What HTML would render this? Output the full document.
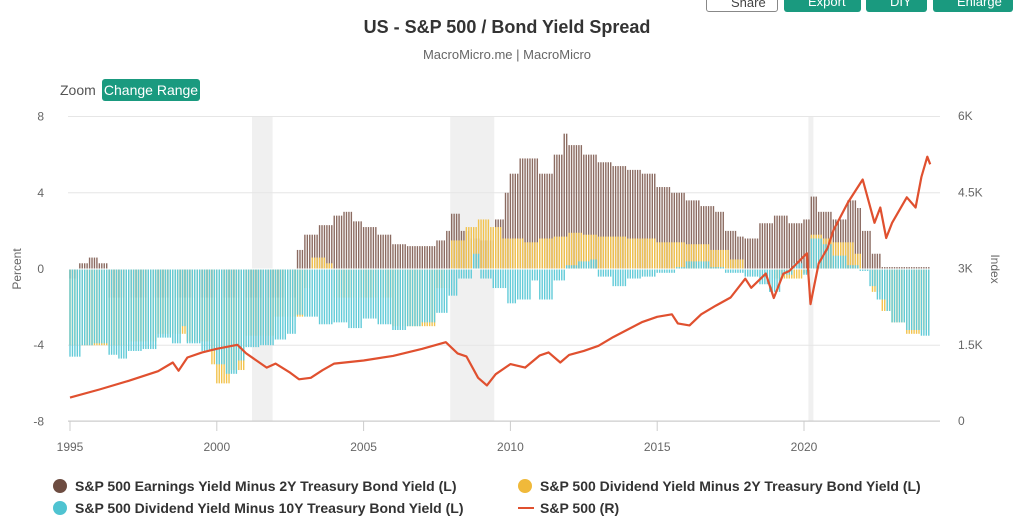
<!DOCTYPE html>
<html><head><meta charset="utf-8">
<style>
body{margin:0;width:1024px;height:528px;overflow:hidden;background:#fff;font-family:"Liberation Sans",sans-serif;}
.btn{position:absolute;top:-6px;height:18px;border-radius:3px;background:#1a9a7f;color:#fff;font-size:13px;line-height:16px;padding-left:24px;box-sizing:border-box}
</style></head><body>
<div class="btn" style="left:706px;width:72px;background:#fff;border:1px solid #888;color:#444;">Share</div>
<div class="btn" style="left:784px;width:77px;">Export</div>
<div class="btn" style="left:866px;width:61px;">DIY</div>
<div class="btn" style="left:933px;width:80px;">Enlarge</div>
<div style="position:absolute;left:0;width:1014px;top:17px;text-align:center;font-weight:bold;font-size:18px;color:#333;">US - S&amp;P 500 / Bond Yield Spread</div>
<div style="position:absolute;left:0;width:1014px;top:47px;text-align:center;font-size:13px;color:#666;">MacroMicro.me | MacroMicro</div>
<div style="position:absolute;left:60px;top:82px;font-size:14px;color:#555;">Zoom</div>
<div style="position:absolute;left:102px;top:79px;width:98px;height:22px;background:#1a9a7f;color:#fff;font-size:14px;line-height:22px;text-align:center;border-radius:3px;">Change Range</div>
<svg id="chart" width="1024" height="528" style="position:absolute;left:0;top:0" xmlns="http://www.w3.org/2000/svg"></svg>
<script>
const brownT=[1995,1995.3,1995.6,1996,1996.3,2002.5,2002.7,2003,2003.5,2004,2004.3,2004.6,2005,2005.5,2006,2006.5,2007,2007.5,2007.8,2008,2008.3,2008.6,2009,2009.5,2009.8,2010,2010.3,2010.6,2011,2011.5,2011.8,2012,2012.5,2013,2013.5,2014,2014.5,2015,2015.5,2016,2016.5,2017,2017.3,2017.7,2018,2018.5,2019,2019.5,2020,2020.2,2020.5,2021,2021.5,2021.8,2022,2022.3,2022.6,2023];
const brownV=[-0.5,0.3,0.6,0.3,-1.5,-1.5,1.0,1.8,2.3,2.8,3.0,2.5,2.2,1.8,1.3,1.2,1.2,1.5,2.0,2.9,2.0,1.6,1.5,2.6,4.0,5.0,5.8,5.8,5.0,6.0,7.1,6.5,6.0,5.6,5.4,5.2,5.0,4.3,4.0,3.6,3.3,3.0,2.0,1.7,1.6,2.4,2.8,2.4,2.6,3.8,3.0,2.6,3.6,3.2,2.0,0.8,0.1,0.1];
const yellowT=[1995,1996,1997,1998,1999,1999.8,2000,2000.5,2001,2002,2003,2003.2,2003.7,2004,2006,2007,2007.5,2008,2008.5,2008.9,2009.3,2009.7,2010,2010.5,2011,2011.5,2012,2012.5,2013,2014,2015,2016,2016.8,2017.5,2018,2019,2020,2020.2,2020.6,2021,2021.7,2022,2022.3,2022.6,2023,2023.5,2024];
const yellowV=[-4.0,-4.0,-3.8,-3.4,-3.8,-5.0,-6.0,-5.3,-3.5,-2.5,-1.0,0.6,0.3,-1.5,-3.0,-3.0,-1.0,1.5,2.2,2.6,2.2,1.6,1.6,1.4,1.6,1.7,1.9,1.8,1.7,1.6,1.4,1.3,1.0,0.5,0.0,-0.5,-0.2,1.8,1.6,1.4,0.8,0.0,-1.2,-2.2,-2.8,-3.4,-3.2];
const cyanT=[1995,1995.4,1995.8,1996.3,1996.6,1997,1997.5,1998,1998.5,1998.8,1999,1999.5,2000,2000.3,2000.7,2001,2001.5,2002,2002.4,2002.7,2003,2003.5,2004,2004.5,2005,2005.5,2006,2006.5,2007,2007.5,2007.9,2008.2,2008.7,2009,2009.4,2009.9,2010.2,2010.7,2011,2011.5,2011.9,2012.3,2012.7,2013,2013.5,2014,2014.5,2015,2015.6,2016,2016.5,2016.8,2017.3,2018,2018.5,2018.8,2019.2,2019.6,2020,2020.2,2020.6,2021,2021.5,2021.9,2022.2,2022.5,2022.8,2023,2023.5,2024];
const cyanV=[-4.6,-4.0,-3.9,-4.5,-4.7,-4.3,-4.2,-3.6,-3.9,-3.0,-3.9,-4.3,-5.0,-5.5,-4.8,-4.1,-4.0,-3.7,-3.4,-2.4,-2.5,-2.9,-2.8,-3.1,-2.6,-2.9,-3.2,-3.0,-2.8,-2.3,-1.4,-0.5,0.8,-0.5,-1.0,-1.8,-1.6,-0.6,-1.6,-0.6,0.2,0.4,0.5,-0.4,-0.9,-0.5,-0.4,-0.2,0.1,0.4,0.4,0.1,-0.2,-0.4,-0.8,-1.2,-0.3,0.3,-0.3,1.6,1.3,0.7,0.2,-0.1,-0.9,-1.6,-2.2,-2.8,-3.2,-3.5];
const spxT=[1995,1996,1997,1998,1998.5,1998.7,1999,1999.5,2000,2000.7,2001,2001.7,2002,2002.5,2002.8,2003.2,2003.6,2004,2005,2006,2007,2007.8,2008.2,2008.5,2008.9,2009.2,2009.5,2010,2010.5,2011,2011.3,2011.7,2012,2012.5,2013,2013.5,2014,2014.5,2015,2015.5,2015.7,2016.1,2016.5,2017,2017.5,2018,2018.2,2018.7,2018.97,2019.3,2019.5,2020.1,2020.22,2020.5,2020.8,2021,2021.5,2022,2022.4,2022.6,2022.8,2023,2023.5,2023.8,2024,2024.2,2024.3];
const spxV=[460,620,790,980,1150,990,1250,1350,1420,1500,1330,1050,1130,950,820,850,1000,1130,1190,1280,1420,1550,1330,1270,850,700,920,1120,1050,1290,1350,1150,1300,1380,1480,1650,1800,1950,2050,2100,1920,1880,2100,2270,2430,2800,2620,2900,2420,2900,2950,3300,2300,3100,3400,3750,4300,4750,3900,4200,3600,3900,4400,4200,4800,5200,5050];
const leftTicks=[8,4,0,-4,-8];
const rightTicks=[6000,4500,3000,1500,0];
const rightLabels=["6K","4.5K","3K","1.5K","0"];
const xTicks=[1995,2000,2005,2010,2015,2020];
const recessions=[[2001.2,2001.9],[2007.95,2009.45],[2020.15,2020.32]];

const NS="http://www.w3.org/2000/svg";
const svg=document.getElementById('chart');
const X0=68,X1=940,YT=116,YB=421;
const xs=t=>70+(t-1995)*29.36;
const yl=v=>269-v*19.06;
const yr=v=>YB-v*(YB-YT)/6000;
function mk(tag,attrs,parent){const e=document.createElementNS(NS,tag);for(const k in attrs)e.setAttribute(k,attrs[k]);(parent||svg).appendChild(e);return e;}
function step(T,V,t){let v=V[0];for(let i=0;i<T.length;i++){if(T[i]<=t+1e-6)v=V[i];else break;}return v;}

recessions.forEach(r=>{const e=mk('rect',{x:xs(r[0]),y:YT,width:xs(r[1])-xs(r[0]),height:YB-YT,fill:'#f0f0f0'});

});
leftTicks.forEach((v,i)=>{const g=mk('line',{x1:X0,x2:X1,y1:yl(v),y2:yl(v),stroke:'#e6e6e6'});


const t=mk('text',{x:44,y:yl(v)+4,'text-anchor':'end','font-size':12,fill:'#666'});t.textContent=v;


const r=mk('text',{x:958,y:yr(rightTicks[i])+4,'font-size':12,fill:'#666'});r.textContent=rightLabels[i];

});
xTicks.forEach(y=>{mk('line',{x1:xs(y),x2:xs(y),y1:YB,y2:YB+10,stroke:'#ccc'});
const t=mk('text',{x:xs(y),y:YB+30,'text-anchor':'middle','font-size':12,fill:'#666'});t.textContent=y;

});
const yt=mk('text',{x:0,y:0,transform:'translate(21,269) rotate(-90)','text-anchor':'middle','font-size':12,fill:'#666'});yt.textContent='Percent';


const rt=mk('text',{x:0,y:0,transform:'translate(991,269) rotate(90)','text-anchor':'middle','font-size':12,fill:'#666'});rt.textContent='Index';



const series=[[brownT,brownV,'#8b6b61','bar-earnings-2y'],[yellowT,yellowV,'#f2c34e','bar-dividend-2y'],[cyanT,cyanV,'#62cbd8','bar-dividend-10y']];
series.forEach(s=>{const g=mk('g',{});


for(let m=0;m<352;m++){const t=1995+m/12;const v=step(s[0],s[1],t);const y0=yl(0),y1=yl(v);
const b=mk('rect',{x:xs(t)-0.7,y:Math.min(y0,y1),width:1.4,height:Math.max(0.5,Math.abs(y1-y0)),fill:s[2]},g);

}});
mk('line',{x1:X0,x2:X1,y1:yl(0),y2:yl(0),stroke:'#fff','stroke-width':1});
let d='';spxT.forEach((t,i)=>{d+=(i?'L':'M')+xs(t).toFixed(1)+','+yr(spxV[i]).toFixed(1);});
const ln=mk('path',{d:d,fill:'none',stroke:'#e0502f','stroke-width':2.2,'stroke-linejoin':'round'});


mk('line',{x1:X0,x2:X1,y1:YB,y2:YB,stroke:'#ccc'});

const legend=[[60,486,'#6d4c41','S&P 500 Earnings Yield Minus 2Y Treasury Bond Yield (L)','legend-earnings-2y'],[525,486,'#f0b93a','S&P 500 Dividend Yield Minus 2Y Treasury Bond Yield (L)','legend-dividend-2y'],[60,508,'#4fc3d1','S&P 500 Dividend Yield Minus 10Y Treasury Bond Yield (L)','legend-dividend-10y']];
legend.forEach(l=>{const g=mk('g',{});


mk('circle',{cx:l[0],cy:l[1],r:7,fill:l[2]},g);
const t=mk('text',{x:l[0]+15,y:l[1]+5,'font-size':14,'font-weight':'bold',fill:'#333'},g);t.textContent=l[3];});
const lg=mk('g',{});


mk('line',{x1:518,x2:534,y1:508,y2:508,stroke:'#e0502f','stroke-width':2},lg);
const lt=mk('text',{x:540,y:513,'font-size':14,'font-weight':'bold',fill:'#333'},lg);lt.textContent='S&P 500 (R)';
</script>
</body></html>
